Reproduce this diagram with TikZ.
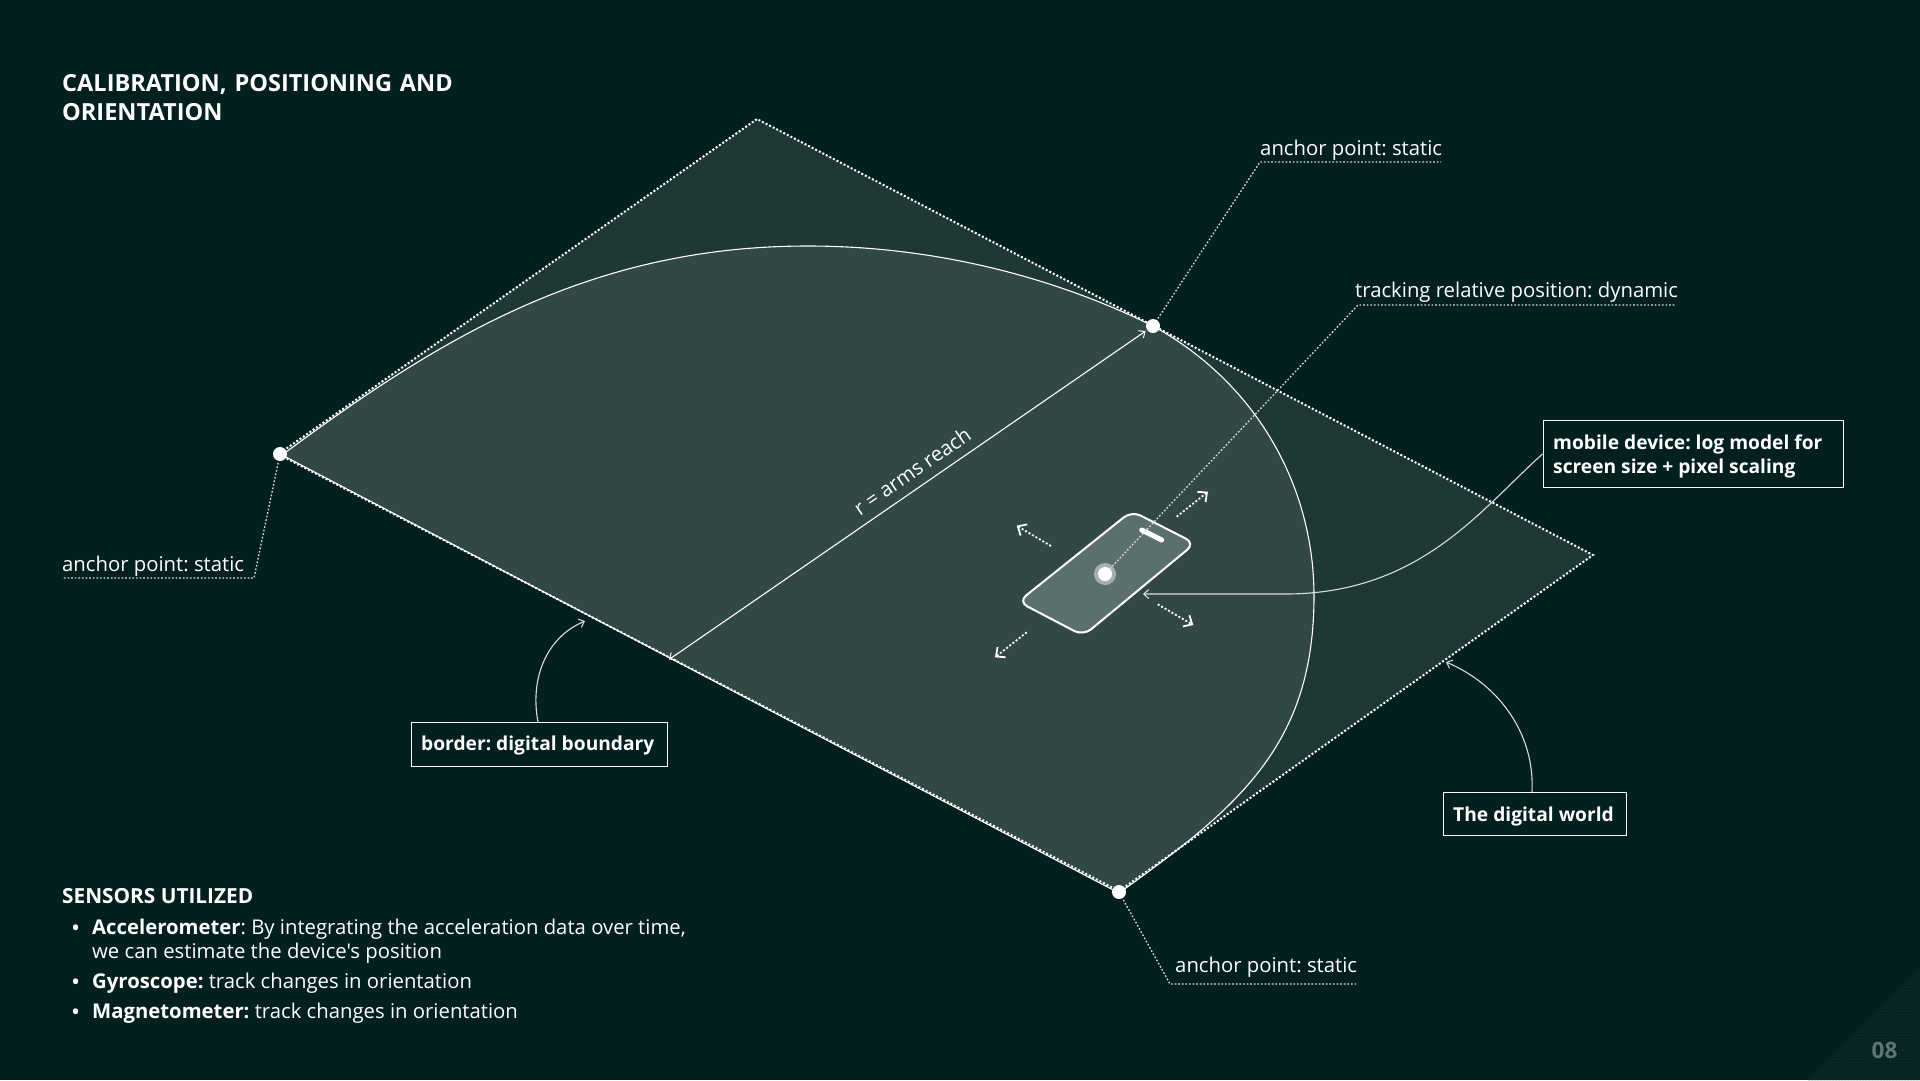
\documentclass[tikz,border=0pt]{standalone}
\usepackage{fontspec}
\setmainfont{Open Sans}[Ligatures=TeXOff]
\usetikzlibrary{arrows.meta,patterns,calc}
\definecolor{bgc}{HTML}{02201F}
\definecolor{worldc}{HTML}{1F3735}
\definecolor{reachc}{HTML}{324847}
\definecolor{phonec}{HTML}{5B706E}
\definecolor{haloc}{HTML}{A4B0AF}
\definecolor{leadc}{HTML}{D8DEDD}
\definecolor{numc}{HTML}{5F7573}
\definecolor{grainc}{HTML}{2A4E4B}
\definecolor{graintint}{HTML}{042321}
\tikzset{
  edgeline/.style={white,line width=2pt,dash pattern=on 2pt off 2pt},
  leader/.style={leadc,line width=1.3pt,dash pattern=on 1.7pt off 1.9pt},
  anchordot/.style={circle,fill=white,inner sep=0pt,minimum size=14pt,outer sep=2pt},
  lbl/.style={anchor=base west,inner sep=0pt,text=white,font=\fontsize{20.3pt}{24pt}\selectfont\frenchspacing},
  boldlbl/.style={lbl,font=\fontsize{20.8pt}{24pt}\selectfont\bfseries\frenchspacing},
  boxframe/.style={draw=white,line width=1pt,fill=bgc,inner sep=0pt},
  boxtext/.style={lbl,font=\fontsize{19.2pt}{24pt}\selectfont\bfseries\frenchspacing},
  thinlink/.style={leadc,line width=1.1pt,-{Straight Barb[length=5pt,width=9pt,line width=1pt]}},
  radial/.style={white,line width=1.1pt,{Straight Barb[length=5pt,width=9pt,line width=1pt]}-{Straight Barb[length=5pt,width=9pt,line width=1pt]}},
  moveline/.style={white,line width=1.8pt,dash pattern=on 2pt off 2pt,-{Straight Barb[length=7pt,width=13pt,line width=1.8pt]}}
}
\begin{document}
\begin{tikzpicture}[x=1pt,y=-1pt]
\useasboundingbox (0,0) rectangle (1920,1080);
\fill[bgc] (0,0) rectangle (1920,1080);
% corner grain
\fill[graintint] (1920,968) -- (1808,1080) -- (1920,1080) -- cycle;
\fill[pattern=dots,pattern color=grainc] (1920,968) -- (1808,1080) -- (1920,1080) -- cycle;
% corners
\coordinate (wl) at (280,454);
\coordinate (wt) at (757,119);
\coordinate (wr) at (1153,326);
\coordinate (wf) at (1593,555);
\coordinate (wb) at (1119,892);
% world
\fill[worldc] (280,453) -- (wt) -- (wf) -- (1119,891) -- (280,455) -- cycle;
% reach
\filldraw[fill=reachc,draw=white,line width=1.1pt]
  (282,455) .. controls (440,338) and (590,246) .. (808,246)
  .. controls (930,246) and (1050,275) .. (wr)
  .. controls (1260,385) and (1314,490) .. (1314,596)
  .. controls (1314,745) and (1239,807) .. (1119,893) -- cycle;
\draw[edgeline] (280,453) -- (wt) -- (wf) -- (1119,891) (1119,891) -- (280,455);
% anchors
\node[anchordot] (al) at (wl) {};
\node[anchordot] (ar) at (wr) {};
\node[anchordot] (ab) at (wb) {};
% radius
\coordinate (rfoot) at (669,659.5);
\draw[radial] (rfoot) -- (ar);
\node[lbl,anchor=center,rotate=34.6] (rlabel) at (912,471) {r = arms reach};
% phone
\coordinate (pt) at (1131.7,511);
\coordinate (pr) at (1195,543.3);
\coordinate (pb) at (1083.3,635.7);
\coordinate (pl) at (1018.3,601.7);
\draw[white,line width=2pt,fill=phonec,rounded corners=10pt] ($(pt)!0.5!(pr)$) -- (pr) -- (pb) -- (pl) -- (pt) -- cycle;
\coordinate (spa) at (1141.7,530);
\coordinate (spb) at (1161.7,540);
\draw[white,line width=5pt,line cap=round] (spa) -- (spb);
\node[circle,fill=haloc,inner sep=0pt,minimum size=22pt] (halo) at (1105,574) {};
\node[circle,fill=white,inner sep=0pt,minimum size=14pt] (centre) at (1105,574) {};
% movement arrows
\coordinate (nea) at (1176.7,516.7); \coordinate (neb) at (1208,491.7);
\coordinate (nwa) at (1051,546);     \coordinate (nwb) at (1016.7,525.7);
\coordinate (sea) at (1157.7,604.3); \coordinate (seb) at (1193.3,625);
\coordinate (swa) at (1026.7,632.3); \coordinate (swb) at (995,657.3);
\draw[moveline] (nea) -- (neb);
\draw[moveline] (nwa) -- (nwb);
\draw[moveline] (sea) -- (seb);
\draw[moveline] (swa) -- (swb);
% title
\node[lbl,font=\fontsize{23.55pt}{29pt}\selectfont\bfseries\frenchspacing,text width=430pt,anchor=north west,align=left] (title) at (62,74.5) {CALIBRATION, POSITIONING AND\\ORIENTATION};
% anchor labels
\node[lbl] (tr) at (1260,155) {anchor point: static};
\coordinate (trk) at (1260,162); \coordinate (tre) at (1441,162);
\draw[leader] (ar) -- (trk) -- (tre);
\node[lbl] (trk2) at (1355,297) {tracking relative position: dynamic};
\coordinate (tk) at (1358,305); \coordinate (tke) at (1676,305);
\draw[leader] (centre) -- (tk) -- (tke);
\node[lbl] (lf) at (62,571) {anchor point: static};
\coordinate (lk) at (254,578); \coordinate (lke) at (62,578);
\draw[leader] (al) -- (lk) -- (lke);
\node[lbl] (bt) at (1175,972) {anchor point: static};
\coordinate (bk) at (1170,984); \coordinate (bke) at (1356,984);
\draw[leader] (ab) -- (bk) -- (bke);
% boxes
\node[boxframe,minimum width=300pt,minimum height=67pt] (bmob) at (1693,454) {};
\node[boxtext] (tmob1) at (1553,449.5) {mobile device: log model for};
\node[boxtext] (tmob2) at (1553,473.5) {screen size + pixel scaling};
\node[boxframe,minimum width=256pt,minimum height=44pt] (bbor) at (539,744) {};
\node[boxtext] (tbor) at (421,750.5) {border: digital boundary};
\node[boxframe,minimum width=183pt,minimum height=43pt] (bdig) at (1534.5,814) {};
\node[boxtext] (tdig) at (1453,821) {The digital world};
% links
\coordinate (bord) at (585,621);
\coordinate (digt) at (1446,662);
\coordinate (phn) at (1143,594);
\draw[thinlink] (bmob.west) .. controls (1480,510) and (1420,594) .. (1285,594) -- (phn);
\draw[thinlink] (538,722) .. controls (530,680) and (545,638) .. (bord);
\draw[thinlink] (1532,792) .. controls (1535,735) and (1500,685) .. (digt);
% sensors
\node[boldlbl] (sh) at (62,903.5) {SENSORS UTILIZED};
\node[lbl] (b1) at (71,936.5) {\fontsize{24pt}{24pt}\selectfont•};
\node[lbl] (s1) at (92,934) {\textbf{Accelerometer}: By integrating the acceleration data over time,};
\node[lbl] (s1b) at (92,958) {we can estimate the device's position};
\node[lbl] (b2) at (71,990.5) {\fontsize{24pt}{24pt}\selectfont•};
\node[lbl] (s2) at (92,988) {\textbf{Gyroscope:} track changes in orientation};
\node[lbl] (b3) at (71,1020.5) {\fontsize{24pt}{24pt}\selectfont•};
\node[lbl] (s3) at (92,1018) {\textbf{Magnetometer:} track changes in orientation};
% page number
\node[lbl,text=numc,font=\fontsize{22.5pt}{24pt}\selectfont\bfseries,anchor=center] (pg) at (1884.5,1050.5) {08};
\end{tikzpicture}
\end{document}
